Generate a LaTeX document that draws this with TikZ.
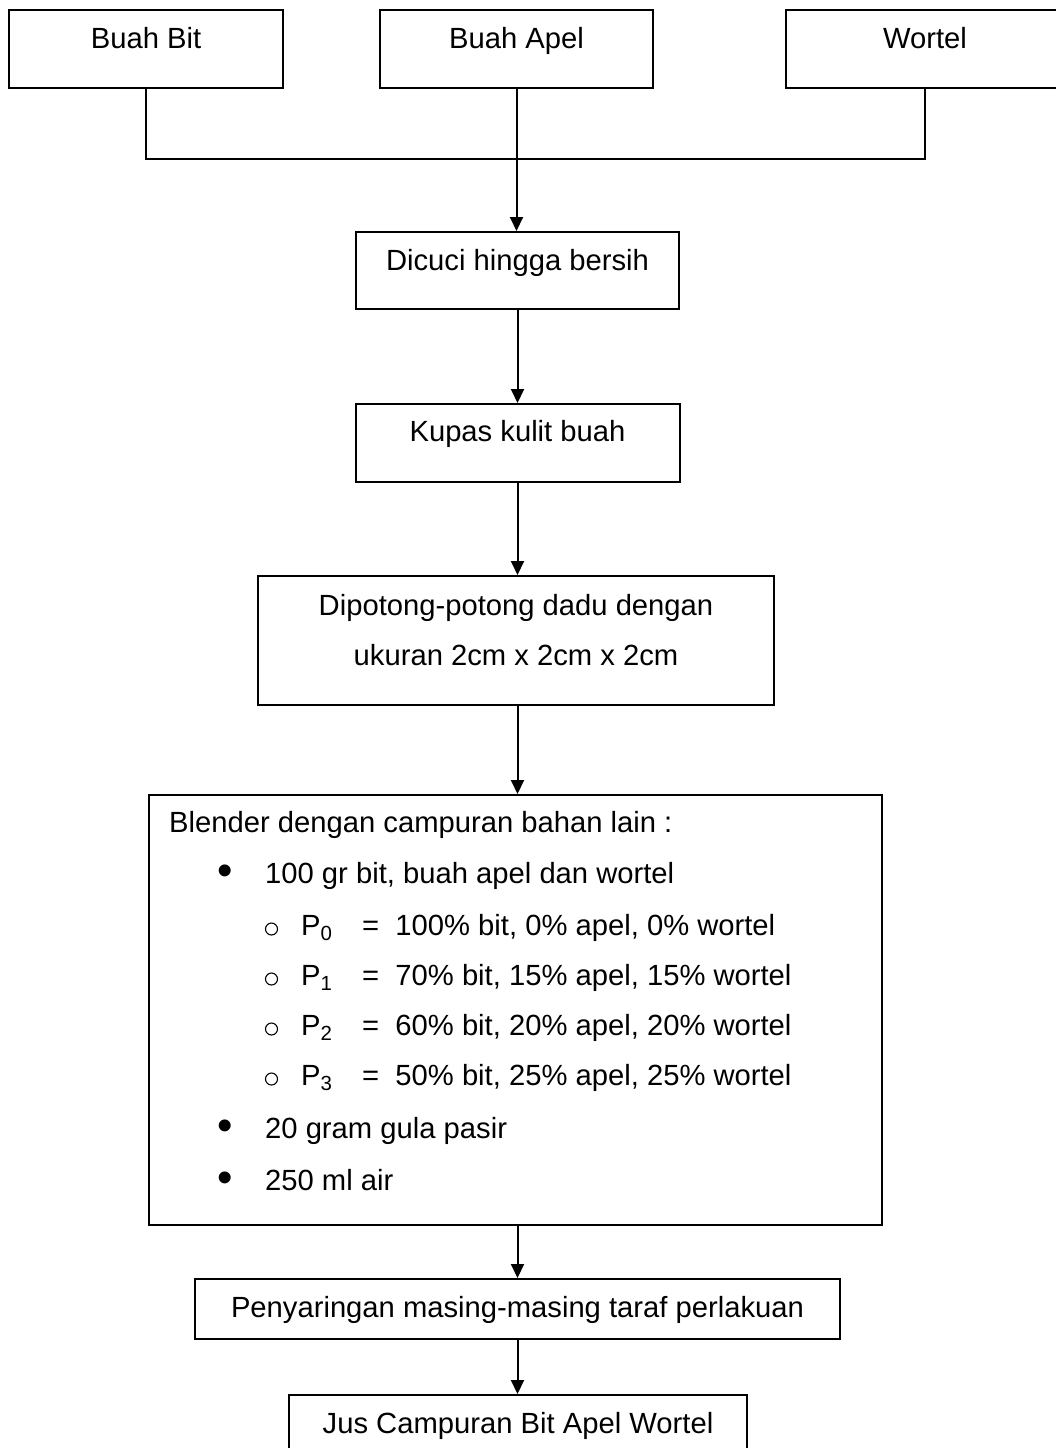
\documentclass[tikz,border=0pt]{standalone}
\usepackage{fontspec}
\setmainfont{Liberation Sans}
\usetikzlibrary{arrows.meta}
\begin{document}
\begin{tikzpicture}[x=1pt,y=-1pt,
  box/.style={draw,line width=2pt,rectangle,inner sep=0pt},
  txt/.style={inner sep=0pt,anchor=base,font=\fontsize{29.2}{35}\selectfont},
  ltxt/.style={txt,anchor=base west},
  dot/.style={inner sep=0pt,font=\fontsize{44}{44}\selectfont},
  ring/.style={draw,circle,line width=1.1pt,inner sep=0pt,minimum size=12pt},
  conn/.style={line width=2pt},
  arr/.style={line width=2pt,-{Triangle[length=14pt,width=13pt]}}]
\useasboundingbox (0,0) rectangle (1055,1448);
% top boxes
\node[box,minimum width=274pt,minimum height=78pt] (bit) at (146,49) {};
\node[box,minimum width=273pt,minimum height=78pt] (apel) at (516.5,49) {};
\node[box,minimum width=278pt,minimum height=78pt] (wortel) at (925,49) {};
\node[txt] (tbit) at (146,48) {Buah Bit};
\node[txt] (tapel) at (516.5,48) {Buah Apel};
\node[txt] (twortel) at (925,48) {Wortel};
\coordinate (jl) at (146,159);
\coordinate (jr) at (925,159);
% process boxes
\node[box,minimum width=323pt,minimum height=77pt] (cuci) at (517.5,270.5) {};
\node[txt] (tcuci) at (517.5,270) {Dicuci hingga bersih};
\node[box,minimum width=324pt,minimum height=78pt] (kupas) at (517.5,443) {};
\node[txt] (tkupas) at (517.5,441) {Kupas kulit buah};
\node[box,minimum width=516pt,minimum height=129pt] (potong) at (516,640.5) {};
\node[txt] (tpotong1) at (516,615) {Dipotong-potong dadu dengan};
\node[txt] (tpotong2) at (516,665) {ukuran 2cm x 2cm x 2cm};
% blender box
\node[box,minimum width=733pt,minimum height=430pt] (blend) at (515.5,1010) {};
\node[ltxt] (b0) at (169,832) {Blender dengan campuran bahan lain :};
\node[dot] (d1) at (225,875) {\textbullet};
\node[ltxt] (b1) at (265,883) {100 gr bit, buah apel dan wortel};
\node[ring] (c0) at (271.5,929) {};
\node[ltxt] (p0) at (301,935) {P\textsubscript{0}};
\node[ltxt] (e0) at (362,935) {=\ \ 100\% bit, 0\% apel, 0\% wortel};
\node[ring] (c1) at (271.5,979) {};
\node[ltxt] (p1) at (301,985) {P\textsubscript{1}};
\node[ltxt] (e1) at (362,985) {=\ \ 70\% bit, 15\% apel, 15\% wortel};
\node[ring] (c2) at (271.5,1029) {};
\node[ltxt] (p2) at (301,1035) {P\textsubscript{2}};
\node[ltxt] (e2) at (362,1035) {=\ \ 60\% bit, 20\% apel, 20\% wortel};
\node[ring] (c3) at (271.5,1079) {};
\node[ltxt] (p3) at (301,1085) {P\textsubscript{3}};
\node[ltxt] (e3) at (362,1085) {=\ \ 50\% bit, 25\% apel, 25\% wortel};
\node[dot] (d2) at (225,1130) {\textbullet};
\node[ltxt] (b2) at (265,1138) {20 gram gula pasir};
\node[dot] (d3) at (225,1182) {\textbullet};
\node[ltxt] (b3) at (265,1190) {250 ml air};
% bottom boxes
\node[box,minimum width=645pt,minimum height=60pt] (saring) at (517.5,1309) {};
\node[txt] (tsaring) at (517.5,1317) {Penyaringan masing-masing taraf perlakuan};
\node[box,minimum width=458pt,minimum height=80pt] (jus) at (518,1435) {};
\node[txt] (tjus) at (518,1433) {Jus Campuran Bit Apel Wortel};
% connectors
\draw[conn] (bit.south) |- (jl) -- (jr) -- (wortel.south);
\draw[arr] (apel.south) -- (apel.south |- cuci.north);
\draw[arr] (cuci.south) -- (kupas.north);
\draw[arr] (kupas.south) -- (kupas.south |- potong.north);
\draw[arr] (kupas.south |- potong.south) -- (kupas.south |- blend.north);
\draw[arr] (kupas.south |- blend.south) -- (kupas.south |- saring.north);
\draw[arr] (kupas.south |- saring.south) -- (kupas.south |- jus.north);
\end{tikzpicture}
\end{document}
